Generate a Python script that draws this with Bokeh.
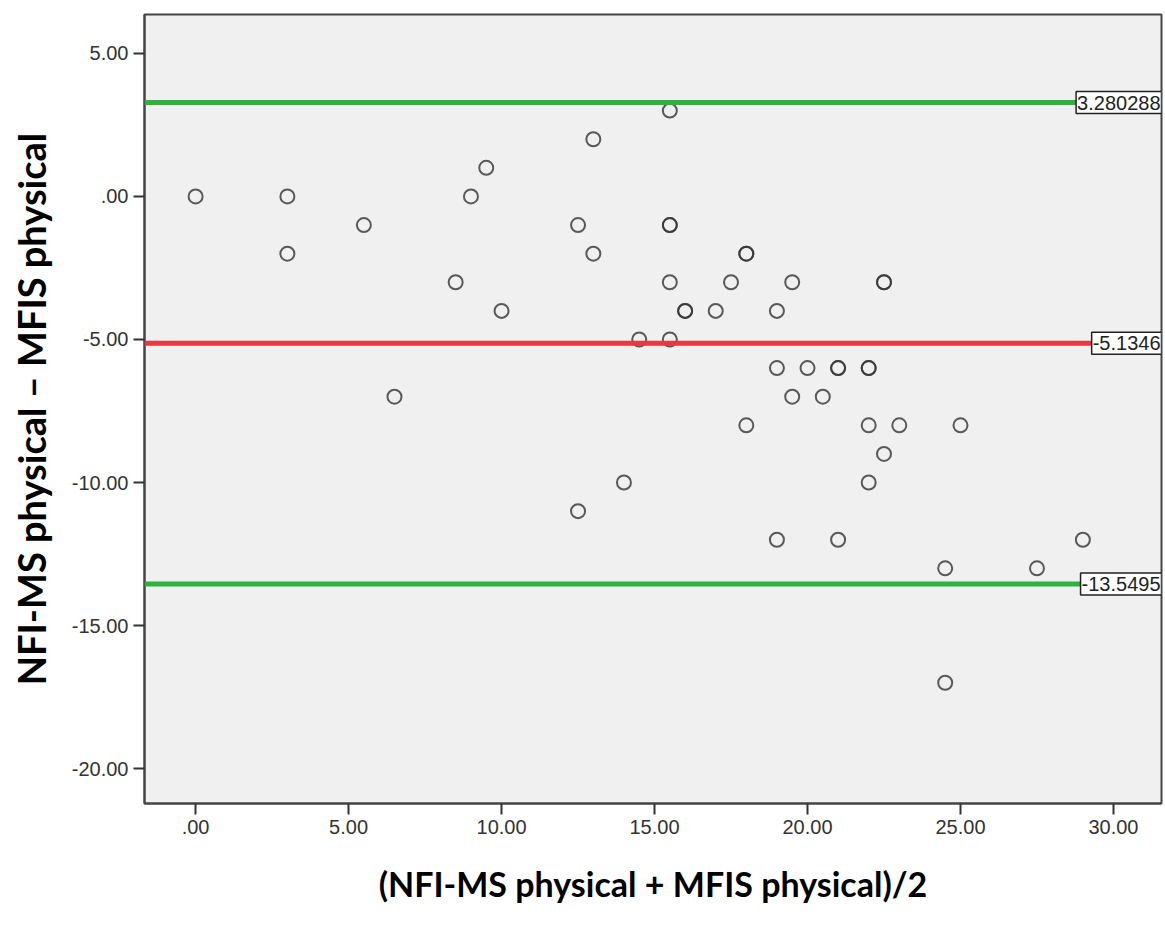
from bokeh.plotting import figure
from bokeh.models import Span, Label, FixedTicker, Range1d
from bokeh.embed import file_html
from bokeh.resources import INLINE

# data
x_vals = [0, 3, 3, 5.5, 6.5, 8.5, 9, 9.5, 10, 12.5, 12.5, 13, 13, 14, 14.5,
          15.5, 15.5, 15.5, 15.5, 15.5, 16, 16, 17, 17.5, 18, 18, 18, 19, 19, 19,
          19.5, 19.5, 20, 20.5, 21, 21, 21, 22, 22, 22, 22, 22.5, 22.5, 22.5,
          23, 24.5, 24.5, 25, 27.5, 29]
y_vals = [0, 0, -2, -1, -7, -3, 0, 1, -4, -1, -11, 2, -2, -10, -5,
          3, -1, -1, -3, -5, -4, -4, -4, -3, -2, -2, -8, -4, -6, -12,
          -3, -7, -6, -7, -6, -6, -12, -6, -6, -8, -10, -3, -3, -9,
          -8, -13, -17, -8, -13, -12]

mean_diff = -5.1346
upper_loa = 3.280288
lower_loa = -13.5495
mean_label = "-5.1346"
upper_label = "3.280288"
lower_label = "-13.5495"

x_ticks = [0, 5, 10, 15, 20, 25, 30]
x_tick_labels = [".00", "5.00", "10.00", "15.00", "20.00", "25.00", "30.00"]
y_ticks = [5, 0, -5, -10, -15, -20]
y_tick_labels = ["5.00", ".00", "-5.00", "-10.00", "-15.00", "-20.00"]

x_title = "(NFI-MS physical + MFIS physical)/2"
y_title = "NFI-MS physical \u2013 MFIS physical"

X_MIN, X_MAX = -1.67, 31.57
Y_MIN, Y_MAX = -21.22, 6.36

p = figure(width=1163, height=925, output_backend="svg", toolbar_location=None,
           x_range=Range1d(X_MIN, X_MAX), y_range=Range1d(Y_MIN, Y_MAX),
           min_border_top=14, min_border_right=2, min_border_bottom=122,
           min_border_left=144)

p.background_fill_color = "#f0f0f0"
p.border_fill_color = "white"
p.outline_line_color = "#444444"
p.outline_line_width = 2
p.xgrid.visible = False
p.ygrid.visible = False

for ax in (p.xaxis[0], p.yaxis[0]):
    ax.axis_line_color = "#444444"
    ax.axis_line_width = 2
    ax.major_tick_line_color = "#333333"
    ax.major_tick_line_width = 2
    ax.major_tick_out = 11
    ax.major_tick_in = 0
    ax.minor_tick_line_color = None
    ax.major_label_text_font = "Liberation Sans"
    ax.major_label_text_font_size = "20px"
    ax.major_label_text_color = "#333333"
    ax.major_label_standoff = 5
    ax.axis_label_text_font = "Lato"
    ax.axis_label_text_font_style = "bold"
    ax.axis_label_text_color = "black"

p.xaxis.ticker = FixedTicker(ticks=x_ticks)
p.yaxis.ticker = FixedTicker(ticks=y_ticks)
p.xaxis.major_label_overrides = {t: l for t, l in zip(x_ticks, x_tick_labels)}
p.yaxis.major_label_overrides = {t: l for t, l in zip(y_ticks, y_tick_labels)}

p.xaxis.axis_label = x_title
p.yaxis.axis_label = y_title
p.xaxis.axis_label_text_font_size = "34px"
p.yaxis.axis_label_text_font_size = "38px"
p.xaxis.axis_label_standoff = 26
p.yaxis.axis_label_standoff = 15

green = "#2cb33e"
red = "#e8393f"
for val, col in ((upper_loa, green), (mean_diff, red), (lower_loa, green)):
    p.add_layout(Span(location=val, dimension="width", line_color=col, line_width=5))

p.scatter(x_vals, y_vals, marker="circle", size=14, fill_color=None,
          line_color="#333333", line_width=2, line_alpha=0.8)

for val, txt in ((upper_loa, upper_label), (mean_diff, mean_label), (lower_loa, lower_label)):
    p.add_layout(Label(x=X_MAX, y=val, text=txt, text_align="right",
                       text_baseline="middle", text_font="Liberation Sans",
                       text_font_size="20px", text_color="#222222",
                       background_fill_color="white",
                       border_line_color="#222222", border_line_width=1.5,
                       padding=dict(left=1, right=1, top=4, bottom=4)))

open("out.html", "w").write(file_html(p, INLINE))
